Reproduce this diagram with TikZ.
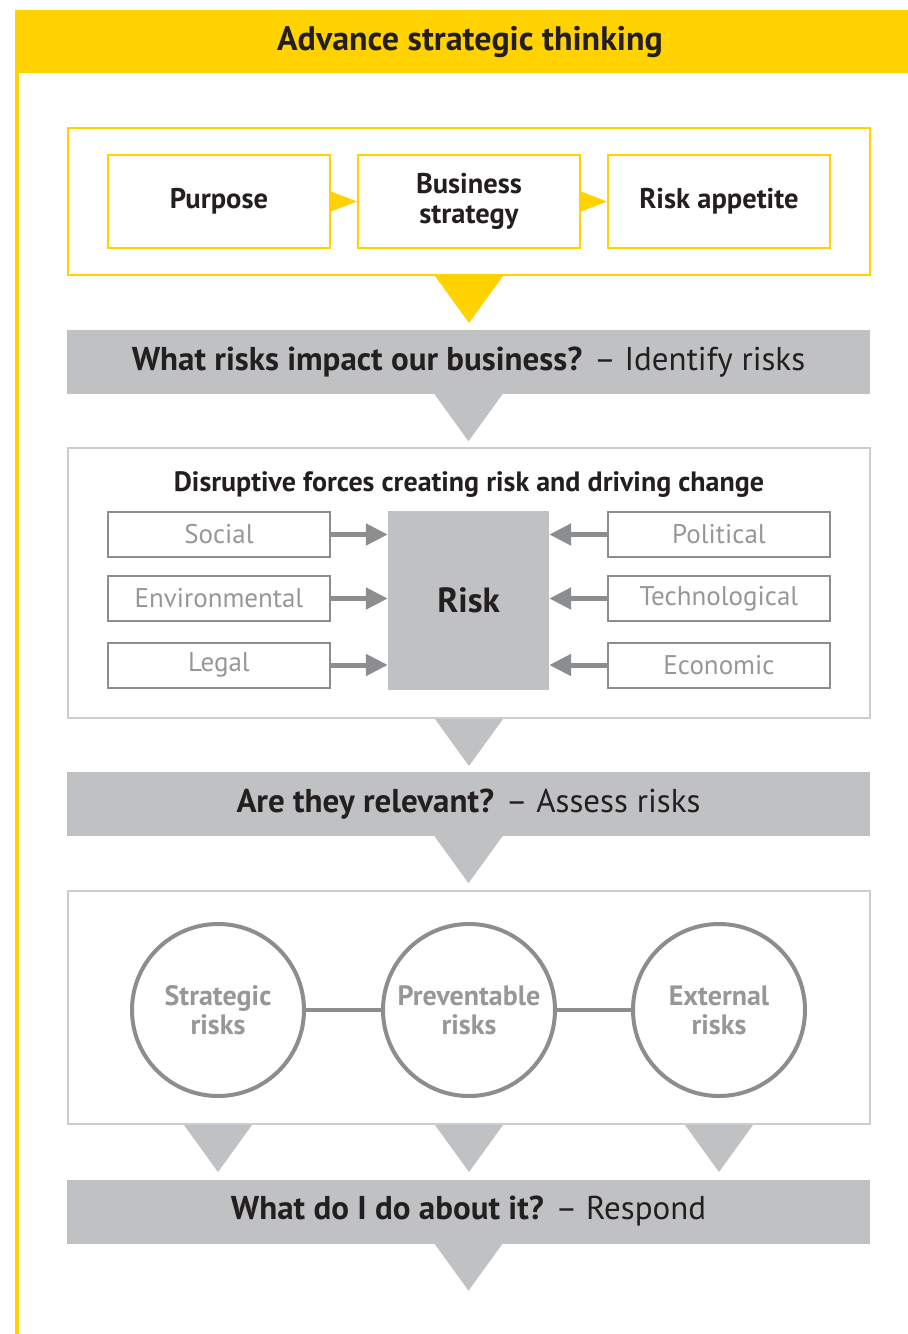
\documentclass[tikz,border=0pt]{standalone}
\usepackage{fontspec}
\setmainfont{PT Sans}
\usetikzlibrary{arrows.meta}
\definecolor{eyyellow}{RGB}{255,210,0}
\definecolor{bandgray}{RGB}{192,193,195}
\definecolor{linegray}{RGB}{140,141,143}
\definecolor{framegray}{RGB}{204,205,207}
\definecolor{textgray}{RGB}{150,151,153}
\definecolor{ink}{RGB}{35,31,32}

\newcommand{\droptri}[2]{\fill[#2] ([xshift=-34pt]#1) -- ([xshift=34pt]#1) -- ([yshift=-47pt]#1) -- cycle;}

\tikzset{
  yframe/.style={draw=eyyellow, line width=2pt, minimum width=802pt, inner sep=0pt},
  gframe/.style={draw=framegray, line width=2pt, minimum width=802pt, inner sep=0pt},
  ybox/.style={draw=eyyellow, line width=2pt, minimum width=222pt, minimum height=93pt,
    align=center, text=ink, font=\bfseries\fontsize{28.5}{30}\selectfont},
  band/.style={fill=bandgray, minimum width=803pt, minimum height=64pt, text=ink,
    font=\fontsize{33}{35}\selectfont},
  force/.style={draw=linegray, line width=2pt, minimum width=222pt, minimum height=45pt,
    text=textgray, font=\fontsize{27}{29}\selectfont},
  riskbox/.style={fill=bandgray, minimum width=161pt, minimum height=179pt, text=ink,
    font=\bfseries\fontsize{35}{37}\selectfont},
  riskcircle/.style={circle, draw=linegray, line width=4pt, minimum size=172pt, align=center,
    text=textgray, font=\bfseries\fontsize{28}{29}\selectfont},
  farrow/.style={draw=linegray, line width=5pt, -{Triangle[length=22pt,width=21pt]}},
  link/.style={draw=linegray, line width=4pt},
}

\begin{document}
\begin{tikzpicture}[x=1pt,y=-1pt]

\useasboundingbox[fill=white] (0,0) rectangle (908,1334);

% header band and left rule
\fill[eyyellow] (15,10) rectangle (908,73);
\fill[eyyellow] (15,73) rectangle (19,1334);
\node[text=ink, font=\bfseries\fontsize{34}{36}\selectfont] (title) at (470,42) {Advance strategic thinking};

% strategy
\node[yframe, minimum height=147pt] (stratframe) at (469,201.5) {};
\node[ybox] (purpose) at (219,201.5) {Purpose};
\node[ybox] (business) at (469,201.5) {Business\\strategy};
\node[ybox] (appetite) at (719,201.5) {Risk appetite};
\fill[eyyellow] ([yshift=10pt]purpose.east) -- ([yshift=-10pt]purpose.east) -- (business.west) -- cycle;
\fill[eyyellow] ([yshift=10pt]business.east) -- ([yshift=-10pt]business.east) -- (appetite.west) -- cycle;
\droptri{stratframe.south}{eyyellow}

\node[band] (identify) at (468.5,362) {\textbf{What risks impact our business?} – Identify risks};
\droptri{identify.south}{bandgray}

% disruptive forces
\node[gframe, minimum height=270pt] (forceframe) at (469,583) {};
\node[text=ink, font=\bfseries\fontsize{28}{30}\selectfont] (forcehead) at (469,485) {Disruptive forces creating risk and driving change};
\node[riskbox] (risk) at (468.5,600.5) {Risk};
\node[force] (social) at (219,534.5) {Social};
\node[force] (environ) at (219,598.5) {Environmental};
\node[force] (legal) at (219,665) {Legal};
\node[force] (political) at (719,534.5) {Political};
\node[force] (techno) at (719,598.5) {Technological};
\node[force] (economic) at (719,665) {Economic};
\foreach \f in {social,environ,legal}
  \draw[farrow] (\f.east) -- (\f.east -| risk.west);
\foreach \f in {political,techno,economic}
  \draw[farrow] (\f.west) -- (\f.west -| risk.east);
\droptri{forceframe.south}{bandgray}

\node[band] (assess) at (468.5,804) {\textbf{Are they relevant?} – Assess risks};
\droptri{assess.south}{bandgray}

% risk categories
\node[gframe, minimum height=233pt] (catframe) at (469,1007.5) {};
\node[riskcircle] (strategic) at (218,1010) {Strategic\\risks};
\node[riskcircle] (preventable) at (469,1010) {Preventable\\risks};
\node[riskcircle] (external) at (719,1010) {External\\risks};
\draw[link] (strategic) -- (preventable);
\draw[link] (preventable) -- (external);
\droptri{strategic |- catframe.south}{bandgray}
\droptri{preventable |- catframe.south}{bandgray}
\droptri{external |- catframe.south}{bandgray}

\node[band] (respond) at (468.5,1211.5) {\textbf{What do I do about it?} – Respond};
\droptri{respond.south}{bandgray}

\end{tikzpicture}
\end{document}
